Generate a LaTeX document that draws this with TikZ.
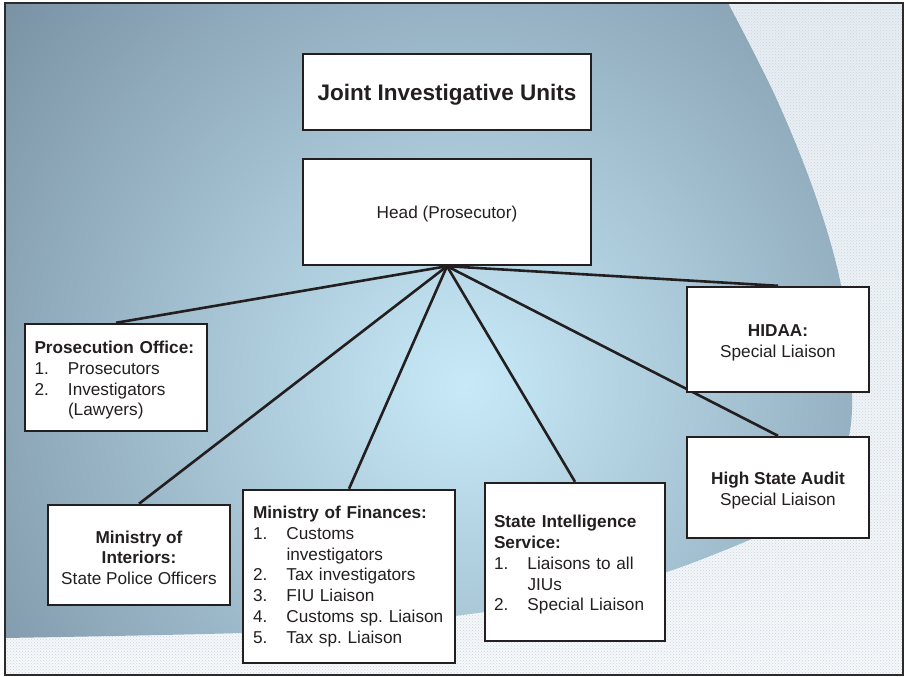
\documentclass[tikz,border=0pt]{standalone}
\usepackage{fontspec}
\setmainfont{Liberation Sans}
\usetikzlibrary{patterns}
\frenchspacing
\definecolor{bgin}{HTML}{C8EAF8}
\definecolor{bgout}{HTML}{7890A2}
\definecolor{patt}{HTML}{E6EDF2}
\definecolor{patb}{HTML}{F6F8FA}
\definecolor{dotc}{HTML}{C9D5DF}
\definecolor{ink}{HTML}{231F20}
\definecolor{framec}{HTML}{2B2B2B}
\newcommand\numitem[2]{\makebox[33.5pt][l]{#1}#2}
\newcommand\contline[1]{\hspace*{33.5pt}#1}
\newcommand\tallstrut{\rule{0pt}{18pt}}
\pgfdeclarelayer{back}
\pgfdeclarelayer{lines}
\pgfsetlayers{back,lines,main}
\begin{document}
\begin{tikzpicture}[x=1pt,y=-1pt,
  box/.style={draw=ink, line width=2.4pt, fill=white, inner sep=0pt, text=ink,
    font=\fontsize{17.2}{20.8}\selectfont},
  listbox/.style={box, align=left},
  centbox/.style={box, align=center},
  link/.style={draw=ink, line width=2.6pt},
]
\useasboundingbox (0,0) rectangle (906,677);

% boxes
\node[box, minimum width=288pt, minimum height=76pt,
  font=\bfseries\fontsize{22.5}{27}\selectfont] (title) at (447,92) {\rule{0pt}{22pt}Joint Investigative Units};
\node[box, minimum width=288pt, minimum height=106pt] (head) at (447,212) {\rule{0pt}{17pt}Head (Prosecutor)};
\node[listbox, minimum width=182pt, minimum height=107pt, text width=163pt] (pros) at (116,377.5)
  {\tallstrut\textbf{Prosecution Office:}\\ \numitem{1.}{Prosecutors}\\ \numitem{2.}{Investigators}\\ \contline{(Lawyers)}};
\node[centbox, minimum width=182pt, minimum height=100pt] (inter) at (139,555)
  {\tallstrut\textbf{Ministry of}\\ \textbf{Interiors:}\\ State Police Officers};
\node[listbox, minimum width=212pt, minimum height=173pt, text width=192pt] (fin) at (349,576.5)
  {\textbf{Ministry of Finances:}\\ \numitem{1.}{Customs}\\ \contline{investigators}\\
   \numitem{2.}{Tax investigators}\\ \numitem{3.}{FIU Liaison}\\
   \numitem{4.}{Customs sp. Liaison}\\ \numitem{5.}{Tax sp. Liaison}};
\node[listbox, minimum width=180pt, minimum height=158pt, text width=162pt] (intel) at (575,562)
  {\tallstrut\textbf{State Intelligence}\\ \textbf{Service:}\\ \numitem{1.}{Liaisons to all}\\ \contline{JIUs}\\
   \numitem{2.}{Special Liaison}};
\node[centbox, minimum width=182pt, minimum height=105pt] (hidaa) at (778,339.5)
  {\tallstrut\textbf{HIDAA:}\\ Special Liaison};
\node[centbox, minimum width=182pt, minimum height=101pt] (audit) at (778,487.5)
  {\tallstrut\textbf{High State Audit}\\ Special Liaison};

% connectors
\begin{pgfonlayer}{lines}
\draw[link] (head.south) -- (pros.north);
\draw[link] (head.south) -- (inter.north);
\draw[link] (head.south) -- (fin.north);
\draw[link] (head.south) -- (intel.north);
\draw[link] (head.south) -- (hidaa.north);
\draw[link] (head.south) -- (audit.north);
\end{pgfonlayer}

% background
\begin{pgfonlayer}{back}
\begin{scope}
\clip (5,3) rectangle (903,675);
\shade[top color=patt, bottom color=patb] (5,3) rectangle (903,675);
\fill[pattern=crosshatch dots, pattern color=dotc] (5,3) rectangle (903,675);
\begin{scope}
\clip (5,3) -- plot[smooth, tension=0.6] coordinates {(728,3) (777,100) (817,200) (842,290)
   (852,380) (845,450) (805,510) (700,560) (590,594) (485,612) (360,626) (240,633) (5,638)} -- cycle;
\shade[inner color=bgin, outer color=bgout] (465,385) circle (610pt);
\end{scope}
\end{scope}
\draw[framec, line width=2pt] (5,3) rectangle (903,675);
\end{pgfonlayer}
\end{tikzpicture}
\end{document}
